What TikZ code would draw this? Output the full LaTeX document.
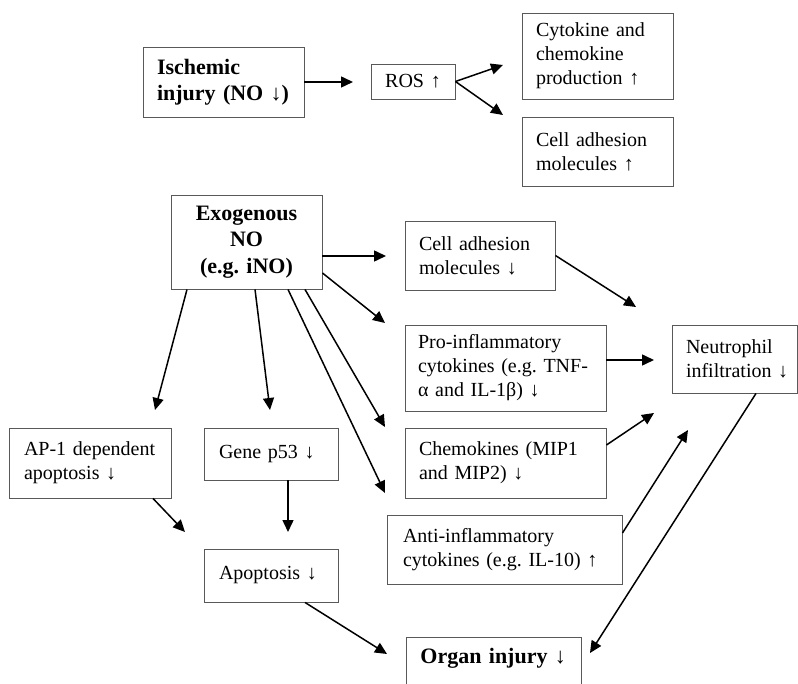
\documentclass[tikz,border=0pt]{standalone}
\usepackage{fontspec}
\setmainfont{Liberation Serif}
\usetikzlibrary{arrows.meta}
\begin{document}
\frenchspacing
\begin{tikzpicture}[x=1pt,y=-1pt,
  bx/.style={draw=black!65, line width=0.9pt, fill=white, inner xsep=14pt, inner ysep=0pt, align=left, font=\fontsize{20}{24}\selectfont, anchor=center},
  bbx/.style={bx, font=\fontsize{22}{26.5}\selectfont\bfseries},
  arr/.style={-{Triangle[length=12pt,width=11pt]}, line width=1.5pt, black}]
\clip (0,0) rectangle (798,684);
\fill[white] (0,0) rectangle (798,684);

\node[bbx, text width=133pt, minimum height=70pt] (isch) at (223.5,82) {Ischemic\\injury (NO~↓)};
\node[bx, align=center, text width=56pt, minimum height=35pt] (ros) at (413,81.5) {ROS~↑};
\node[bx, text width=123pt, minimum height=86pt] (cyto) at (597.5,56) {Cytokine and\\chemokine\\production~↑};
\node[bx, text width=123pt, minimum height=69pt] (cellup) at (597.5,151.5) {Cell adhesion\\molecules~↑};
\node[bbx, align=center, text width=123pt, minimum height=94pt] (exo) at (246.5,242) {Exogenous\\NO\\(e.g. iNO)};
\node[bx, text width=122pt, minimum height=69pt] (celldn) at (480,255.5) {Cell adhesion\\molecules~↓};
\node[bx, inner xsep=13pt, text width=175pt, minimum height=86pt] (pro) at (505.5,368) {Pro-inflammatory\\cytokines (e.g. TNF-\\α and IL-1β)~↓};
\node[bx, text width=97pt, minimum height=68pt] (neut) at (734.5,359) {Neutrophil\\infiltration~↓};
\node[bx, text width=173pt, minimum height=70pt] (chem) at (505.5,463) {Chemokines (MIP1\\and MIP2)~↓};
\node[bx, inner xsep=16pt, text width=203pt, minimum height=69pt] (anti) at (504.5,549.5) {Anti-inflammatory\\cytokines (e.g. IL-10)~↑};
\node[bx, inner xsep=15pt, text width=132pt, minimum height=70pt] (ap1) at (90,463) {AP-1 dependent\\apoptosis~↓};
\node[bx, inner xsep=15pt, text width=104pt, minimum height=52pt] (p53) at (271,454) {Gene p53~↓};
\node[bx, inner xsep=15pt, text width=104pt, minimum height=53pt] (apop) at (271,575.5) {Apoptosis~↓};
\node[bbx, anchor=north west, inner ysep=0pt, text width=147pt, text height=26pt, text depth=40pt] (organ) at (406,637) {Organ injury~↓};

% arrow tips
\coordinate (t1) at (353,82);
\coordinate (t2) at (503,65);
\coordinate (t3) at (503,115);
\coordinate (t4) at (386,256);
\coordinate (t5) at (385,323);
\coordinate (t6) at (155,410);
\coordinate (t7) at (270,410);
\coordinate (t8) at (385,427);
\coordinate (t9) at (385,493);
\coordinate (t10) at (636,307);
\coordinate (t11) at (654,360);
\coordinate (t12) at (654,413);
\coordinate (t13) at (688,430);
\coordinate (t14) at (590,653);
\coordinate (t15) at (185,532);
\coordinate (t16) at (288,532);
\coordinate (t17) at (387,654);

\draw[arr] (isch.east) -- (t1);
\draw[arr] (ros.east) -- (t2);
\draw[arr] (ros.east) -- (t3);
\draw[arr] ([yshift=-14pt]exo.east) -- (t4);
\draw[arr] ([yshift=-31pt]exo.east) -- (t5);
\draw[arr] ([xshift=-59.5pt]exo.south) -- (t6);
\draw[arr] ([xshift=8.5pt]exo.south) -- (t7);
\draw[arr] ([xshift=58.5pt]exo.south) -- (t8);
\draw[arr] ([xshift=41.5pt]exo.south) -- (t9);
\draw[arr] (celldn.east) -- (t10);
\draw[arr] ([yshift=8pt]pro.east) -- (t11);
\draw[arr] ([yshift=18pt]chem.east) -- (t12);
\draw[arr] ([yshift=16.5pt]anti.east) -- (t13);
\draw[arr] ([xshift=21.5pt]neut.south) -- (t14);
\draw[arr] ([xshift=63pt]ap1.south) -- (t15);
\draw[arr] ([xshift=17pt]p53.south) -- (t16);
\draw[arr] ([xshift=34pt]apop.south) -- (t17);
\end{tikzpicture}
\end{document}
